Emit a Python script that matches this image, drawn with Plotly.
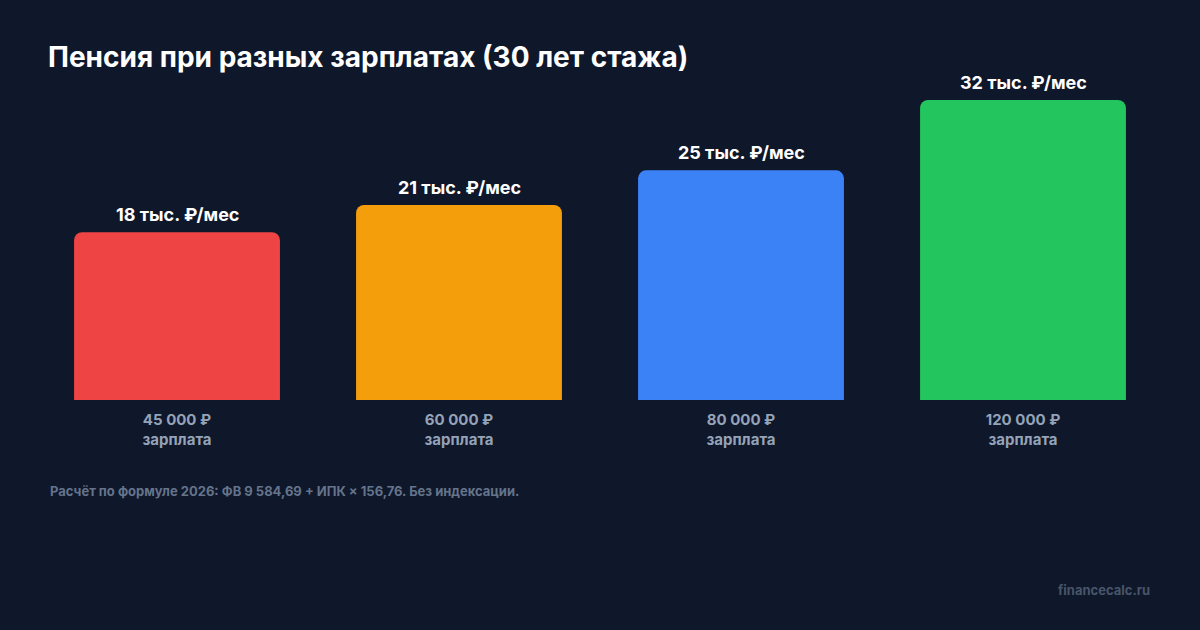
import plotly.graph_objects as go

salary_labels = ["45 000 ₽", "60 000 ₽", "80 000 ₽", "120 000 ₽"]
pension_values = [17.9, 20.8, 24.5, 32.0]
pension_labels = ["18 тыс. ₽/мес", "21 тыс. ₽/мес", "25 тыс. ₽/мес", "32 тыс. ₽/мес"]
bar_colors = ["#ef4444", "#f59e0b", "#3b82f6", "#22c55e"]

BG = "#0f172a"
FONT = "Inter"

cats = [f"<b>{s}</b><br><b>зарплата</b>" for s in salary_labels]

fig = go.Figure()
fig.add_trace(go.Bar(
    x=cats,
    y=pension_values,
    marker=dict(color=bar_colors, line=dict(width=0)),
    hoverinfo="skip",
))

for c, v, t in zip(cats, pension_values, pension_labels):
    fig.add_annotation(
        x=c, y=v, text=f"<b>{t}</b>", showarrow=False,
        yanchor="bottom", yshift=5,
        font=dict(family=FONT, size=18, color="#ffffff"),
    )

fig.update_layout(
    width=1200, height=630,
    paper_bgcolor=BG, plot_bgcolor=BG,
    margin=dict(l=36, r=36, t=60, b=230),
    bargap=0.27,
    barcornerradius=8,
    showlegend=False,
    font=dict(family=FONT),
    xaxis=dict(
        showgrid=False, zeroline=False, showline=False, ticks="",
        tickfont=dict(family=FONT, size=15, color="#94a3b8"),
        ticklabelstandoff=9,
        range=[-0.5, 3.5],
        fixedrange=True,
    ),
    yaxis=dict(
        showgrid=False, zeroline=False, showline=False, showticklabels=False,
        range=[0, 340 / 9.375],
        fixedrange=True,
    ),
    title=dict(
        text="<b>Пенсия при разных зарплатах (30 лет стажа)</b>",
        x=48 / 1200, xanchor="left", xref="container",
        y=1 - 57 / 630, yanchor="middle", yref="container",
        font=dict(family=FONT, size=28, color="#ffffff"),
    ),
)

fig.add_annotation(
    text="<b>Расчёт по формуле 2026: ФВ 9 584,69 + ИПК × 156,76. Без индексации.</b>",
    xref="paper", yref="paper", x=(48 - 36) / 1128, y=-(491 - 400) / 340,
    xanchor="left", yanchor="middle", showarrow=False,
    font=dict(family=FONT, size=13, color="#64748b"),
)
fig.add_annotation(
    text="<b>financecalc.ru</b>",
    xref="paper", yref="paper", x=(1152 - 36) / 1128, y=-(590 - 400) / 340,
    xanchor="right", yanchor="middle", showarrow=False,
    font=dict(family=FONT, size=13, color="#475569"),
)

fig.write_html(
    "out.html",
    config={"displayModeBar": False},
    post_script="document.body.style.margin='0';document.body.style.background='#0f172a';",
)
